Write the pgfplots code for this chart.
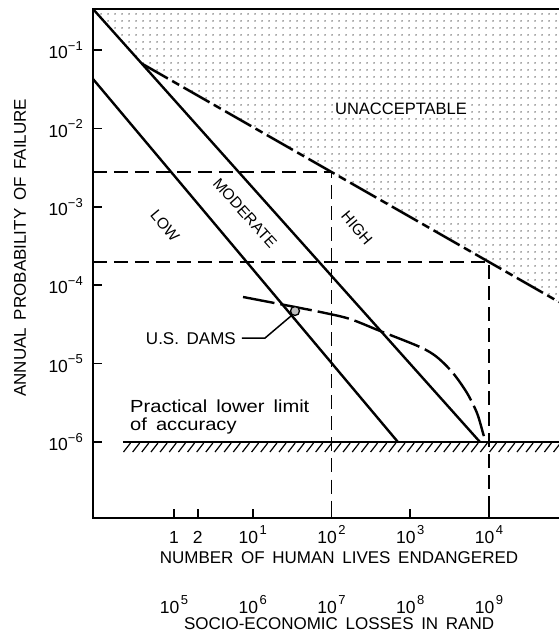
\documentclass[border=0pt]{standalone}
\usepackage{fontspec}
\setmainfont{Liberation Sans}
\usepackage{pgfplots}
\pgfplotsset{compat=1.18}
\usetikzlibrary{patterns.meta}
\pgfdeclarepattern{name=mydots, type=uncolored,
 bottom left={\pgfpoint{0pt}{0pt}}, top right={\pgfpoint{7pt}{7pt}},
 tile size={\pgfpoint{7pt}{7pt}},
 code={\pgfpathcircle{\pgfpoint{3.5pt}{3.5pt}}{0.75pt}\pgfusepath{fill}}}
\newcommand\sups[1]{\raisebox{8.5pt}{\fontsize{13}{13}\selectfont #1}}
\newcommand\fs[1]{\fontsize{#1}{#1}\selectfont\spaceskip=0.45em plus 0.1em\relax}
\begin{document}
\begin{tikzpicture}
\begin{axis}[name=main, scale only axis, width=466pt, height=509pt,
 xmode=log, ymode=log, xmin=0.0936, xmax=77440, ymin=1.074e-7, ymax=0.3334,
 axis line style={draw=none}, clip=false, no markers,
 xtick pos=left, ytick pos=left, tick align=inside, major tick length=9pt,
 tick style={line width=1.6pt, black},
 ytick={1e-1,1e-2,1e-3,1e-4,1e-5,1e-6},
 yticklabels={10\sups{−1},10\sups{−2},10\sups{−3},10\sups{−4},10\sups{−5},10\sups{−6}},
 xtick={1,2,10,100,1000,10000},
 xticklabels={1,2,10\kern1.5pt\sups{1},10\kern1.5pt\sups{2},10\kern1.5pt\sups{3},10\kern1.5pt\sups{4}},
 yticklabel style={font=\fs{17.5}, anchor=east, inner sep=0pt, xshift=-10pt},
 xticklabel style={font=\fs{17.5}, anchor=base, inner sep=0pt, yshift=-25pt},
 xlabel={NUMBER OF HUMAN LIVES ENDANGERED},
 ylabel={ANNUAL PROBABILITY OF FAILURE},
 xlabel style={font=\fs{17}, at={(axis description cs:0.528,-0.0884)}, anchor=base, inner sep=0pt},
 ylabel style={font=\fs{17}, at={(axis description cs:-0.1567,0.531)}, anchor=center, inner sep=0pt},
]
\coordinate (ll) at (rel axis cs:0,0);
\coordinate (ur) at (rel axis cs:1,1);
\coordinate (hl) at (axis cs:0.225,1e-6);
% unacceptable region
\addplot[draw=none, pattern=mydots, pattern color=black]
 coordinates {(0.0936,0.3334) (0.390,0.0671) (77440,6.11e-5) (77440,0.3334)} -- cycle;
% dashed guide lines
\addplot[line width=1.6pt, dash pattern=on 14pt off 7pt]
 coordinates {(0.0936,2.78e-3) (100,2.78e-3) (100,1.074e-7)};
\addplot[line width=1.6pt, dash pattern=on 14pt off 7pt]
 coordinates {(0.0936,1.977e-4) (10000,1.977e-4) (10000,1.074e-7)};
% boundaries
\addplot[line width=2.4pt] coordinates {(0.0936,0.3334) (7690,1e-6)};
\addplot[line width=2.4pt] coordinates {(0.0936,0.0427) (698,1e-6)};
\addplot[line width=2.5pt, dash pattern=on 30pt off 5pt on 8pt off 5pt]
 coordinates {(0.390,0.0671) (77440,6.11e-5)};
% lower limit
\addplot[line width=2.6pt] coordinates {(0.225,1e-6) (77440,1e-6)};
% US dams
\addplot[line width=2.4pt, smooth, dash pattern=on 32pt off 6pt]
 coordinates {(7.52,7.08e-5) (29.7,5.43e-5) (78.0,4.48e-5) (171.8,3.71e-5) (413,2.61e-5)
 (1330,1.63e-5) (2188,1.21e-5) (3490,7.59e-6) (5260,4.22e-6) (7047,2.34e-6) (8395,1.30e-6) (8892,1.06e-6)};
\addplot[only marks, mark=triangle*, mark size=4.5pt, mark options={rotate=180, line width=1.3pt, fill=black!25}]
 coordinates {(34.4,4.69e-5)};
\draw[line width=1.5pt] (axis cs:7.30,2.12e-5) -- (axis cs:14.31,2.12e-5) -- (axis cs:30.6,4.05e-5);
% labels
\node[font=\fs{16.5}, fill=white, inner sep=1pt] at (axis cs:763,0.01768) {UNACCEPTABLE};
\node[font=\fs{15.5}, rotate=-48] at (axis cs:7.975,8.34e-4) {MODERATE};
\node[font=\fs{15.5}, rotate=-50] at (axis cs:0.7685,5.69e-4) {LOW};
\node[font=\fs{15.5}, rotate=-50] at (axis cs:210.8,5.37e-4) {HIGH};
\node[font=\fs{17}, anchor=east, inner sep=0pt] at (axis cs:6.13,2.06e-5) {U.S.\ DAMS};
\node[font=\fs{17.5}, anchor=base west, inner sep=0pt] at (axis cs:0.2763,2.415e-6) {\scalebox{1.15}[1]{Practical lower limit}};
\node[font=\fs{17.5}, anchor=base west, inner sep=0pt] at (axis cs:0.2763,1.422e-6) {\scalebox{1.15}[1]{of accuracy}};
\end{axis}
\begin{axis}[scale only axis, width=466pt, height=509pt,
 xmode=log, xmin=9360, xmax=7.744e9, ymin=0, ymax=1,
 axis line style={draw=none}, ytick=\empty, no markers,
 xtick={1e5,1e6,1e7,1e8,1e9},
 xticklabels={10\kern1.5pt\sups{5},10\kern1.5pt\sups{6},10\kern1.5pt\sups{7},10\kern1.5pt\sups{8},10\kern1.5pt\sups{9}},
 xtick pos=left, major tick length=0pt, tick style={draw=none},
 xticklabel style={font=\fs{17.5}, anchor=base, inner sep=0pt, yshift=-95pt},
 xlabel={SOCIO-ECONOMIC LOSSES IN RAND},
 xlabel style={font=\fs{17}, at={(axis description cs:0.528,-0.2200)}, anchor=base, inner sep=0pt},
]
\addplot[draw=none] coordinates {(1e5,0.5)};
\end{axis}
\draw[line width=2.8pt] (ur) -- (ll|-ur) -- (ll) -- (ll-|ur);
\foreach \i in {0,...,47} \draw[line width=1.2pt] ([shift={(\i*9.15pt+0.5pt,-10pt)}]hl) -- ++(7pt,9pt);
\pgfresetboundingbox
\path ([shift={(-93pt,-115pt)}]ll) rectangle ([shift={(0pt,9pt)}]ur);
\end{tikzpicture}
\end{document}
